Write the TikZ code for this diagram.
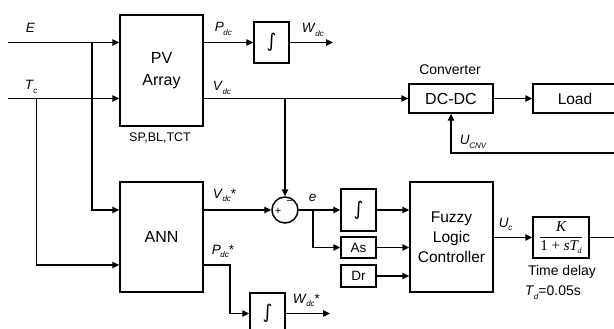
\documentclass[tikz,border=0pt]{standalone}
\usepackage{fontspec}
\setmainfont{Liberation Sans}
\newfontfamily\dejavu{DejaVu Sans}
\newfontfamily\serf{Liberation Serif}
\usetikzlibrary{arrows.meta,calc}
\newcommand{\lb}[2]{\textit{#1}\kern-0.3pt\raisebox{-0.55ex}{\fontsize{8}{8}\selectfont\textit{#2}}}
\begin{document}
\begin{tikzpicture}[x=1pt,y=-1pt, line width=1.5pt,
  >={Triangle[length=7pt,width=6.5pt]},
  blk/.style={draw, rectangle, inner sep=0pt, align=center, font=\fontsize{16}{22}\selectfont},
  intg/.style={blk, minimum width=35pt, font=\dejavu\fontsize{19}{19}\selectfont},
  lab/.style={inner sep=0pt, font=\fontsize{13.5}{13.5}\selectfont},
  note/.style={inner sep=0pt, font=\fontsize{14}{17}\selectfont}]
\clip (0,0) rectangle (614,329);
% blocks
\node[blk, minimum width=83pt, minimum height=111pt] (pv) at (161.5,70.5) {PV\\Array};
\node[intg, minimum height=41pt] (i1) at (271.5,42.5) {∫};
\node[blk, minimum width=84pt, minimum height=29pt] (dc) at (451,98.5) {DC-DC};
\node[blk, minimum width=84pt, minimum height=29pt, font=\fontsize{15.5}{20}\selectfont] (load) at (575,98.5) {Load};
\node[blk, minimum width=83pt, minimum height=110pt] (ann) at (161.5,237) {ANN};
\node[draw, circle, minimum size=26pt, inner sep=0pt] (sum) at (285,210) {};
\node[intg, minimum height=41pt] (i2) at (267.5,313.5) {∫};
\node[intg, minimum height=42pt] (i3) at (358.5,210) {∫};
\node[blk, minimum width=35pt, minimum height=21pt, font=\fontsize{13.5}{16}\selectfont] (as) at (358.5,247.5) {As};
\node[blk, minimum width=35pt, minimum height=22pt, font=\fontsize{13.5}{16}\selectfont] (dr) at (358.5,276) {Dr};
\node[blk, minimum width=83pt, minimum height=110pt, font=\fontsize{15.5}{20}\selectfont] (flc) at (451.5,237) {Fuzzy\\Logic\\Controller};
\node[blk, minimum width=56pt, minimum height=41pt, font=\fontsize{15}{17}\selectfont] (tf) at (561,237.5)
  {$\displaystyle\frac{\hbox{\serf\itshape K}}{\hbox{\serf 1 + \itshape sT\kern-0.5pt\raisebox{-0.4ex}{\fontsize{8}{8}\selectfont d}}}$};
% coordinates
\coordinate (Ein) at (8,42.5);
\coordinate (Tin) at (8,98.5);
\coordinate (Ej) at (92,42.5);
\coordinate (Tj) at (36.7,98.5);
\coordinate (Vj) at (285,98.5);
\coordinate (ej) at (313,210);
\coordinate (Wout) at (333,42.5);
\coordinate (Wsout) at (330,313.5);
\coordinate (Ucnv) at (616,153);
\coordinate (TFout) at (616,237.5);
\coordinate (Pk) at (230,265);
% connectors
\draw[->] (Ein) -- (Ein -| pv.west);
\draw[->] (Tin) -- (Tin -| pv.west);
\draw[->] (Ej) |- (ann.west |- sum);
\draw[->] (Tj) |- (ann.west |- Pk);
\draw[->] (pv.east |- i1) -- (i1.west);
\draw[->] (i1.east) -- (Wout);
\draw[->] (pv.east |- dc) -- (dc.west);
\draw[->] (Vj) -- (sum.north);
\draw[->] (dc.east) -- (load.west);
\draw[->] (Ucnv) -| (dc.south);
\draw[->] (ann.east |- sum) -- (sum.west);
\draw[->] (ann.east |- Pk) -- (Pk) |- (i2.west);
\draw[->] (i2.east) -- (Wsout);
\draw[->] (sum.east) -- (i3.west);
\draw[->] (ej) |- (as.west);
\draw[->] (i3.east) -- (flc.west |- i3);
\draw[->] (as.east) -- (flc.west |- as);
\draw[->] (dr.east) -- (flc.west |- dr);
\draw[->] (flc.east |- tf) -- (tf.west);
\draw (tf.east) -- (TFout);
% sum signs
\node[inner sep=0pt, font=\fontsize{11}{11}\selectfont] (plus) at (278,211) {+};
\node[inner sep=0pt, font=\fontsize{11}{11}\selectfont] (minus) at (289.5,202) {−};
% labels
\node[lab, anchor=base west] (lE) at (25,33) {\textit{E}};
\node[lab, anchor=base west] (lT) at (24,90) {\lb{T}{c}};
\node[lab, anchor=base west] (lP) at (214,32) {\lb{P}{dc}};
\node[lab, anchor=base west] (lV) at (212,91) {\lb{V}{dc}};
\node[lab, anchor=base west] (lW) at (301,33) {\lb{W}{dc}};
\node[lab, anchor=base west] (lU) at (459,145) {\lb{U}{CNV}};
\node[lab, anchor=base west] (lVs) at (212,198) {\lb{V}{dc}*};
\node[lab, anchor=base west] (lPs) at (211,254) {\lb{P}{dc}*};
\node[lab, anchor=base west] (lWs) at (292,303) {\lb{W}{dc}*};
\node[lab, anchor=base west] (le) at (308,201) {\textit{e}};
\node[lab, anchor=base west] (lUc) at (498,227) {\lb{U}{c}};
\node[note] (conv) at (450,70) {Converter};
\node[note, font=\fontsize{12.5}{14}\selectfont] (spbl) at (160,138) {SP,BL,TCT};
\node[note] (td) at (562,272) {Time delay};
\node[note, anchor=base west] (tdv) at (524,295) {\lb{T}{d}=0.05s};
\end{tikzpicture}
\end{document}
